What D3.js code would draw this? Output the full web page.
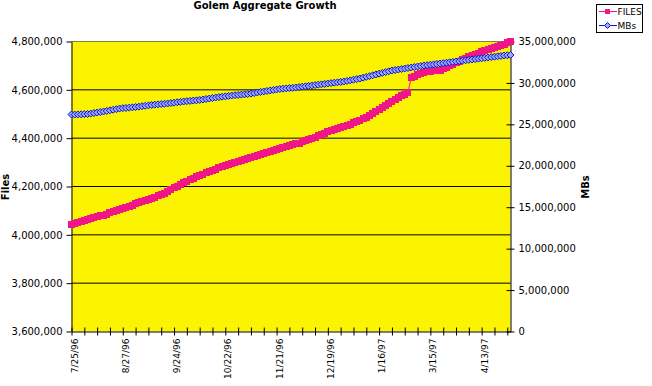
<!DOCTYPE html>
<html>
<head>
<meta charset="utf-8">
<script src="https://cdn.jsdelivr.net/npm/d3@7/dist/d3.min.js"></script>
<style>
  html, body { margin: 0; padding: 0; background: #ffffff; }
  svg { display: block; }
  text { font-family: "DejaVu Sans", Verdana, sans-serif; fill: #000; }
</style>
</head>
<body>
<svg id="chart" width="652" height="386"></svg>
<script>
const chartTitle = "Golem Aggregate Growth";
const seriesNames = ["FILES", "MBs"];
const leftAxisTitle = "Files";
const rightAxisTitle = "MBs";

const dates = [
  "7/25/96","7/27/96","7/29/96","7/31/96","8/2/96","8/4/96","8/6/96","8/8/96","8/10/96","8/12/96","8/14/96","8/16/96","8/19/96","8/21/96","8/23/96","8/25/96",
  "8/27/96","8/29/96","8/31/96","9/2/96","9/4/96","9/5/96","9/7/96","9/9/96","9/11/96","9/13/96","9/14/96","9/16/96","9/18/96","9/20/96","9/21/96","9/23/96",
  "9/24/96","9/26/96","9/28/96","9/29/96","10/1/96","10/3/96","10/5/96","10/6/96","10/8/96","10/10/96","10/12/96","10/13/96","10/15/96","10/17/96","10/19/96","10/20/96",
  "10/22/96","10/24/96","10/26/96","10/28/96","10/30/96","11/1/96","11/2/96","11/4/96","11/6/96","11/8/96","11/10/96","11/11/96","11/13/96","11/15/96","11/17/96","11/19/96",
  "11/21/96","11/23/96","11/25/96","11/26/96","11/28/96","11/30/96","12/2/96","12/3/96","12/5/96","12/7/96","12/9/96","12/10/96","12/12/96","12/14/96","12/16/96","12/17/96",
  "12/19/96","12/21/96","12/23/96","12/24/96","12/26/96","12/28/96","12/30/96","12/31/96","1/2/97","1/4/97","1/6/97","1/7/97","1/9/97","1/11/97","1/13/97","1/14/97",
  "1/16/97","1/18/97","1/20/97","1/21/97","1/23/97","1/25/97","1/27/97","1/28/97","1/30/97","2/1/97","3/3/97","3/5/97","3/7/97","3/9/97","3/11/97","3/13/97",
  "3/15/97","3/17/97","3/19/97","3/21/97","3/23/97","3/24/97","3/26/97","3/28/97","3/30/97","4/1/97","4/2/97","4/4/97","4/6/97","4/8/97","4/10/97","4/11/97",
  "4/13/97","4/15/97","4/17/97","4/18/97","4/20/97","4/22/97","4/24/97","4/25/97","4/27/97","4/29/97"
];

// FILES, in thousands of files
const filesThousands = [
  4043,4046,4050,4054,4058,4063,
  4066,4070,4074,4078,4082,
  4086,4091,4096,4100,4105,
  4109,4114,4118,4123,4128,
  4132,4136,4141,4146,4150,
  4155,4161,4166,4172,4179,
  4186,4194,4202,4210,4217,
  4222,4228,4234,4240,4246,
  4251,4256,4262,4267,4272,
  4277,4281,4286,4291,4295,
  4299,4303,4308,4312,4316,
  4320,4324,4329,4333,4337,
  4341,4345,4349,4353,4357,
  4361,4364,4368,4372,4376,
  4380,4385,4390,4394,4399,
  4404,4410,4415,4421,4426,
  4430,4435,4439,4444,4448,
  4453,4458,4463,4468,4473,
  4480,4487,4495,4502,4510,
  4518,4527,4535,4544,4552,
  4560,4567,4575,4582,4589,
  4651,
  4657,4662,4667,4672,
  4674,4676,4678,4680,4682,
  4687,4693,4700,4706,4713,
  4719,4725,4731,4736,4742,
  4747,4752,4757,4762,4767,
  4771,4775,4779,4784,4788,
  4794,4799
];

// MBs, in thousands of MB
const mbsThousands = [
  26190,26180,26200,26210,26230,26250,
  26300,26370,26430,26490,26550,
  26620,26700,26770,26840,26910,
  26950,26980,27020,27050,27090,
  27140,27190,27240,27290,27340,
  27380,27410,27450,27480,27520,
  27570,27620,27670,27710,27760,
  27800,27830,27870,27900,27940,
  28000,28060,28120,28180,28240,
  28290,28340,28380,28430,28480,
  28520,28550,28590,28620,28660,
  28720,28780,28850,28910,28970,
  29030,29090,29150,29210,29270,
  29310,29340,29380,29410,29450,
  29500,29550,29590,29640,29690,
  29740,29790,29830,29880,29930,
  29980,30030,30070,30120,30170,
  30240,30310,30390,30460,30530,
  30630,30730,30820,30920,31020,
  31120,31210,31310,31400,31500,
  31560,31620,31680,31740,31800,
  31860,
  31920,31980,32040,32100,
  32150,32200,32240,32290,32340,
  32390,32440,32490,32540,32590,
  32640,32690,32730,32780,32830,
  32880,32930,32970,33020,33070,
  33120,33170,33210,33260,33310,
  33340,33370
];

const leftTicks = [3600000, 3800000, 4000000, 4200000, 4400000, 4600000, 4800000];
const rightTicks = [0, 5000000, 10000000, 15000000, 20000000, 25000000, 30000000, 35000000];
const xLabelDates = ["7/25/96","8/27/96","9/24/96","10/22/96","11/21/96","12/19/96","1/16/97","3/15/97","4/13/97"];

const svg = d3.select("#chart");
const L = 71.5, R = 510.5, T = 41.5, B = 331.5;
const pink = "#f0168a", blue = "#0a14c8", yellow = "#fcf300";

const x = d3.scalePoint().domain(dates).range([L, R]);
const yL = d3.scaleLinear().domain([3600000, 4800000]).range([B, T]);
const yR = d3.scaleLinear().domain([0, 35000000]).range([B, T]);
const fmt = d3.format(",");

// plot background
svg.append("rect").attr("x", L).attr("y", T).attr("width", R - L).attr("height", B - T).attr("fill", yellow);

// gridlines
svg.append("g").selectAll("line").data(leftTicks.filter(v => v > 3600000 && v < 4800000)).join("line")
  .attr("x1", L).attr("x2", R).attr("y1", d => yL(d)).attr("y2", d => yL(d))
  .attr("stroke", "#000").attr("stroke-width", 1);
svg.append("line").attr("x1", L).attr("x2", R).attr("y1", yL(4800000)).attr("y2", yL(4800000))
  .attr("stroke", "#000").attr("stroke-width", 1).attr("stroke-dasharray", "1,1");

// left axis
const gl = svg.append("g").attr("transform", `translate(${L},0)`)
  .call(d3.axisLeft(yL).tickValues(leftTicks).tickFormat(fmt).tickSizeInner(5).tickSizeOuter(0).tickPadding(4));
gl.select(".domain").attr("stroke", "#000");
gl.selectAll("text").attr("font-size", "10px").attr("font-family", "DejaVu Sans, sans-serif").attr("fill", "#000");

// right axis with crossing ticks
const gr = svg.append("g").attr("transform", `translate(${R},0)`)
  .call(d3.axisRight(yR).tickValues(rightTicks).tickFormat(fmt).tickSizeInner(4).tickSizeOuter(0).tickPadding(4));
gr.select(".domain").attr("stroke", "#000");
gr.selectAll(".tick line").attr("x1", -4);
gr.selectAll("text").attr("font-size", "10px").attr("font-family", "DejaVu Sans, sans-serif").attr("fill", "#000");

// bottom axis with crossing ticks every 4 categories
const tickDates = dates.filter((d, i) => i % 4 === 0);
const gb = svg.append("g").attr("transform", `translate(0,${B})`)
  .call(d3.axisBottom(x).tickValues(tickDates).tickFormat("").tickSizeInner(4).tickSizeOuter(0));
gb.select(".domain").attr("stroke", "#000");
gb.selectAll(".tick line").attr("y1", -4);

// x labels (rotated)
svg.append("g").selectAll("text").data(xLabelDates).join("text")
  .attr("transform", d => `translate(${x(d) + 6},${B + 7}) rotate(-90)`)
  .attr("text-anchor", "end").attr("font-size", "9px").text(d => d);

// series lines
const lineF = d3.line().x((d, i) => x(dates[i])).y(d => yL(d * 1000));
const lineM = d3.line().x((d, i) => x(dates[i])).y(d => yR(d * 1000));
svg.append("path").datum(filesThousands).attr("d", lineF).attr("fill", "none").attr("stroke", pink).attr("stroke-width", 1);
svg.append("g").selectAll("rect").data(filesThousands).join("rect")
  .attr("x", (d, i) => Math.round(x(dates[i]) - 3.5))
  .attr("y", d => Math.round(yL(d * 1000) - 3.5))
  .attr("width", 7).attr("height", 7).attr("fill", pink);

svg.append("path").datum(mbsThousands).attr("d", lineM).attr("fill", "none").attr("stroke", blue).attr("stroke-width", 1);
svg.append("g").selectAll("path").data(mbsThousands).join("path")
  .attr("d", "M0,-3.5L3.5,0L0,3.5L-3.5,0Z")
  .attr("transform", (d, i) => `translate(${x(dates[i])},${yR(d * 1000)})`)
  .attr("fill", "#9aa6ff").attr("stroke", blue).attr("stroke-width", 1);

// title
svg.append("text").attr("x", 265).attr("y", 9).attr("text-anchor", "middle")
  .attr("font-size", "10px").attr("font-weight", "bold").text(chartTitle);

// axis titles
svg.append("text").attr("transform", "translate(9,187) rotate(-90)").attr("text-anchor", "middle")
  .attr("font-size", "10px").attr("font-weight", "bold").text(leftAxisTitle);
svg.append("text").attr("transform", "translate(589,187) rotate(-90)").attr("text-anchor", "middle")
  .attr("font-size", "10px").attr("font-weight", "bold").text(rightAxisTitle);

// legend
const lg = svg.append("g");
lg.append("rect").attr("x", 596.5).attr("y", 4.5).attr("width", 46).attr("height", 28)
  .attr("fill", "#fff").attr("stroke", "#000").attr("stroke-width", 1);
lg.append("line").attr("x1", 599).attr("x2", 617).attr("y1", 11.5).attr("y2", 11.5).attr("stroke", pink);
lg.append("rect").attr("x", 605).attr("y", 9).attr("width", 5).attr("height", 5).attr("fill", pink);
lg.append("text").attr("x", 617.5).attr("y", 15).attr("font-size", "9px").text(seriesNames[0]);
lg.append("line").attr("x1", 599).attr("x2", 617).attr("y1", 25.5).attr("y2", 25.5).attr("stroke", blue);
lg.append("path").attr("d", "M0,-3L3,0L0,3L-3,0Z").attr("transform", "translate(607.5,25.5)")
  .attr("fill", "#9aa6ff").attr("stroke", blue);
lg.append("text").attr("x", 617.5).attr("y", 29).attr("font-size", "9px").text(seriesNames[1]);
</script>
</body>
</html>
